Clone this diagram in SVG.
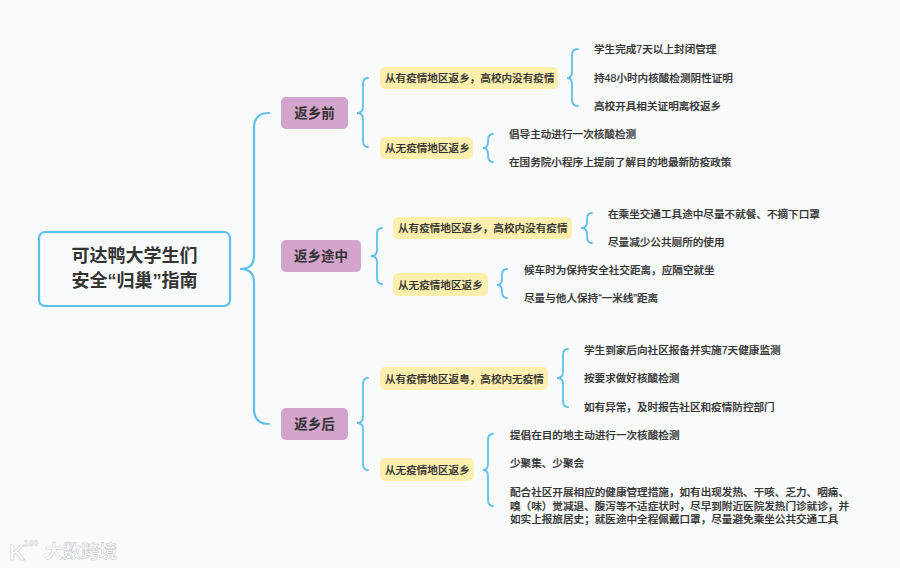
<svg xmlns="http://www.w3.org/2000/svg" width="900" height="568" viewBox="0 0 900 568">
<style>
text{font-family:"Liberation Sans","Noto Sans CJK SC",sans-serif;fill:#333;dominant-baseline:central}
.root{font-size:18px;font-weight:700;text-anchor:middle}
.l1{font-size:13.5px;font-weight:700;text-anchor:middle}
.l2,.l3{font-size:10.6px;font-weight:500;stroke:#333;stroke-width:.2}
.a{fill:#d3a4cc}
.y{fill:#fdf0ae}
.b{fill:none;stroke:#5ec0ea;stroke-width:1.8;stroke-linecap:round}
.rb{stroke-width:2.2}
.wm{fill:#fff;stroke:#c9cbce;stroke-width:.6;font-size:18px;font-weight:700}
</style>
<rect width="900" height="568" fill="#f9fafb"/>
<g id="connectors">
<path class="b rb" d="M269 113Q254 113 254 128L254 256Q254 269 240 269Q254 269 254 282L254 409Q254 424 269 424"/>
<path class="b" d="M368 78Q363 78 363 84L363 107Q363 113 357 113Q363 113 363 119L363 141Q363 147 368 147"/>
<path class="b" d="M578 49Q572 49 572 55L572 72Q572 78 567 78Q572 78 572 84L572 100Q572 106 578 106"/>
<path class="b" d="M493 134Q488 134 488 140L488 142Q488 148 483 148Q488 148 488 154L488 156Q488 162 493 162"/>
<path class="b" d="M382 228Q377 228 377 234L377 250Q377 256 371 256Q377 256 377 262L377 278Q377 284 382 284"/>
<path class="b" d="M592 213Q587 213 587 219L587 222Q587 228 581 228Q587 228 587 234L587 237Q587 243 592 243"/>
<path class="b" d="M507 269Q502 269 502 275L502 279Q502 285 497 285Q502 285 502 291L502 292Q502 298 507 298"/>
<path class="b" d="M368 378Q363 378 363 384L363 417Q363 423 357 423Q363 423 363 429L363 464Q363 470 368 470"/>
<path class="b" d="M568 349Q563 349 563 355L563 372Q563 378 557 378Q563 378 563 384L563 401Q563 407 568 407"/>
<path class="b" d="M493 434Q488 434 488 440L488 464Q488 470 483 470Q488 470 488 476L488 500Q488 506 493 506"/>
</g>
<g id="root"><rect x="39" y="232" width="191" height="74" rx="6" fill="#f9fafb" stroke="#5ec0ea" stroke-width="2.2"/><text class="root" x="134.500" y="256">可达鸭大学生们</text><text class="root" x="134.500" y="281">安全“归巢”指南</text></g>
<g id="n1"><rect class="a" x="281" y="97" width="67" height="32" rx="5"/><text class="l1" x="314.500" y="113">返乡前</text></g>
<g id="n2"><rect class="a" x="281" y="240" width="80" height="32" rx="5"/><text class="l1" x="321" y="256">返乡途中</text></g>
<g id="n3"><rect class="a" x="281" y="408" width="67" height="32" rx="5"/><text class="l1" x="314.500" y="424">返乡后</text></g>
<g id="n1a"><rect class="y" x="380" y="67" width="178" height="22" rx="5"/><text class="l2" x="385" y="78">从有疫情地区返乡，高校内没有疫情</text></g>
<g id="n1b"><rect class="y" x="380" y="137" width="93" height="22" rx="5"/><text class="l2" x="385" y="148">从无疫情地区返乡</text></g>
<g id="n2a"><rect class="y" x="393" y="217" width="179" height="22" rx="5"/><text class="l2" x="398" y="228">从有疫情地区返乡，高校内没有疫情</text></g>
<g id="n2b"><rect class="y" x="393" y="273" width="95" height="23" rx="5"/><text class="l2" x="398" y="284.500">从无疫情地区返乡</text></g>
<g id="n3a"><rect class="y" x="380" y="367" width="168" height="23" rx="5"/><text class="l2" x="385" y="378.500">从有疫情地区返粤，高校内无疫情</text></g>
<g id="n3b"><rect class="y" x="380" y="458" width="94" height="23" rx="5"/><text class="l2" x="385" y="469.500">从无疫情地区返乡</text></g>
<g id="leaf1"><text class="l3" x="594" y="49">学生完成7天以上封闭管理</text></g>
<g id="leaf2"><text class="l3" x="594" y="78">持48小时内核酸检测阴性证明</text></g>
<g id="leaf3"><text class="l3" x="594" y="106">高校开具相关证明离校返乡</text></g>
<g id="leaf4"><text class="l3" x="509" y="134">倡导主动进行一次核酸检测</text></g>
<g id="leaf5"><text class="l3" x="509" y="162">在国务院小程序上提前了解目的地最新防疫政策</text></g>
<g id="leaf6"><text class="l3" x="608" y="214">在乘坐交通工具途中尽量不就餐、不摘下口罩</text></g>
<g id="leaf7"><text class="l3" x="608" y="242">尽量减少公共厕所的使用</text></g>
<g id="leaf8"><text class="l3" x="524" y="270">候车时为保持安全社交距离，应隔空就坐</text></g>
<g id="leaf9"><text class="l3" x="524" y="298">尽量与他人保持“一米线”距离</text></g>
<g id="leaf10"><text class="l3" x="584" y="350">学生到家后向社区报备并实施7天健康监测</text></g>
<g id="leaf11"><text class="l3" x="584" y="378">按要求做好核酸检测</text></g>
<g id="leaf12"><text class="l3" x="584" y="407">如有异常，及时报告社区和疫情防控部门</text></g>
<g id="leaf13"><text class="l3" x="510" y="435">提倡在目的地主动进行一次核酸检测</text></g>
<g id="leaf14"><text class="l3" x="510" y="463">少聚集、少聚会</text></g>
<g id="leaf15"><text class="l3" x="510" y="492">配合社区开展相应的健康管理措施，如有出现发热、干咳、乏力、咽痛、</text><text class="l3" x="510" y="506">嗅（味）觉减退、腹泻等不适症状时，尽早到附近医院发热门诊就诊，并</text><text class="l3" x="510" y="519">如实上报旅居史；就医途中全程佩戴口罩，尽量避免乘坐公共交通工具</text></g>
<g id="watermark"><text class="wm" x="9" y="552" style="font-size:22px">K</text><text class="wm" x="24" y="543" style="font-size:8.500px;stroke-width:.4">100</text><text class="wm" x="45" y="552">大数跨境</text></g>
</svg>
